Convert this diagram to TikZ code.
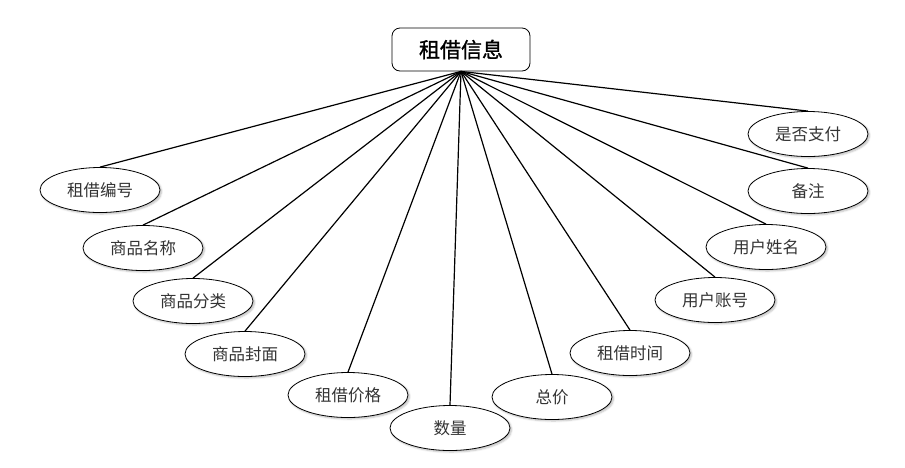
\documentclass[tikz,border=0pt]{standalone}
\usepackage{fontspec}
\newfontfamily\cjk{Noto Sans CJK SC}
\newfontfamily\cjkt[FakeBold=1.2]{Noto Sans CJK SC}
\usetikzlibrary{shapes.geometric,shadows.blur}
\begin{document}
\begin{tikzpicture}[x=1pt,y=-1pt,
  attr/.style={ellipse,draw,line width=0.8pt,fill=white,minimum width=120pt,minimum height=45pt,inner sep=0pt,
    font=\cjk\fontsize{16.5}{16.5}\selectfont,text=black!80,
    blur shadow={shadow xshift=1.5pt,shadow yshift=-1.5pt,shadow blur steps=5,shadow opacity=25,shadow blur extra rounding=1pt}},
  ent/.style={rectangle,rounded corners=8pt,draw,line width=0.8pt,minimum width=138pt,minimum height=43pt,
    font=\cjkt\fontsize{21}{21}\selectfont},
  link/.style={line width=1.2pt}]
\useasboundingbox (0,0) rectangle (905,467);
\node[ent] (e) at (461,49.5) {租借信息};
\node[attr] (a1) at (100,190) {租借编号};
\node[attr] (a2) at (143,248) {商品名称};
\node[attr] (a3) at (193,301) {商品分类};
\node[attr] (a4) at (245,354) {商品封面};
\node[attr] (a5) at (348,395) {租借价格};
\node[attr] (a6) at (450,428) {数量};
\node[attr] (a7) at (552,397) {总价};
\node[attr] (a8) at (630,353) {租借时间};
\node[attr] (a9) at (715,300) {用户账号};
\node[attr] (a10) at (766,247) {用户姓名};
\node[attr] (a11) at (808,191) {备注};
\node[attr] (a12) at (808,134) {是否支付};
\foreach \i in {1,...,12} {\draw[link] (e.south) -- (a\i.north);}
\end{tikzpicture}
\end{document}
